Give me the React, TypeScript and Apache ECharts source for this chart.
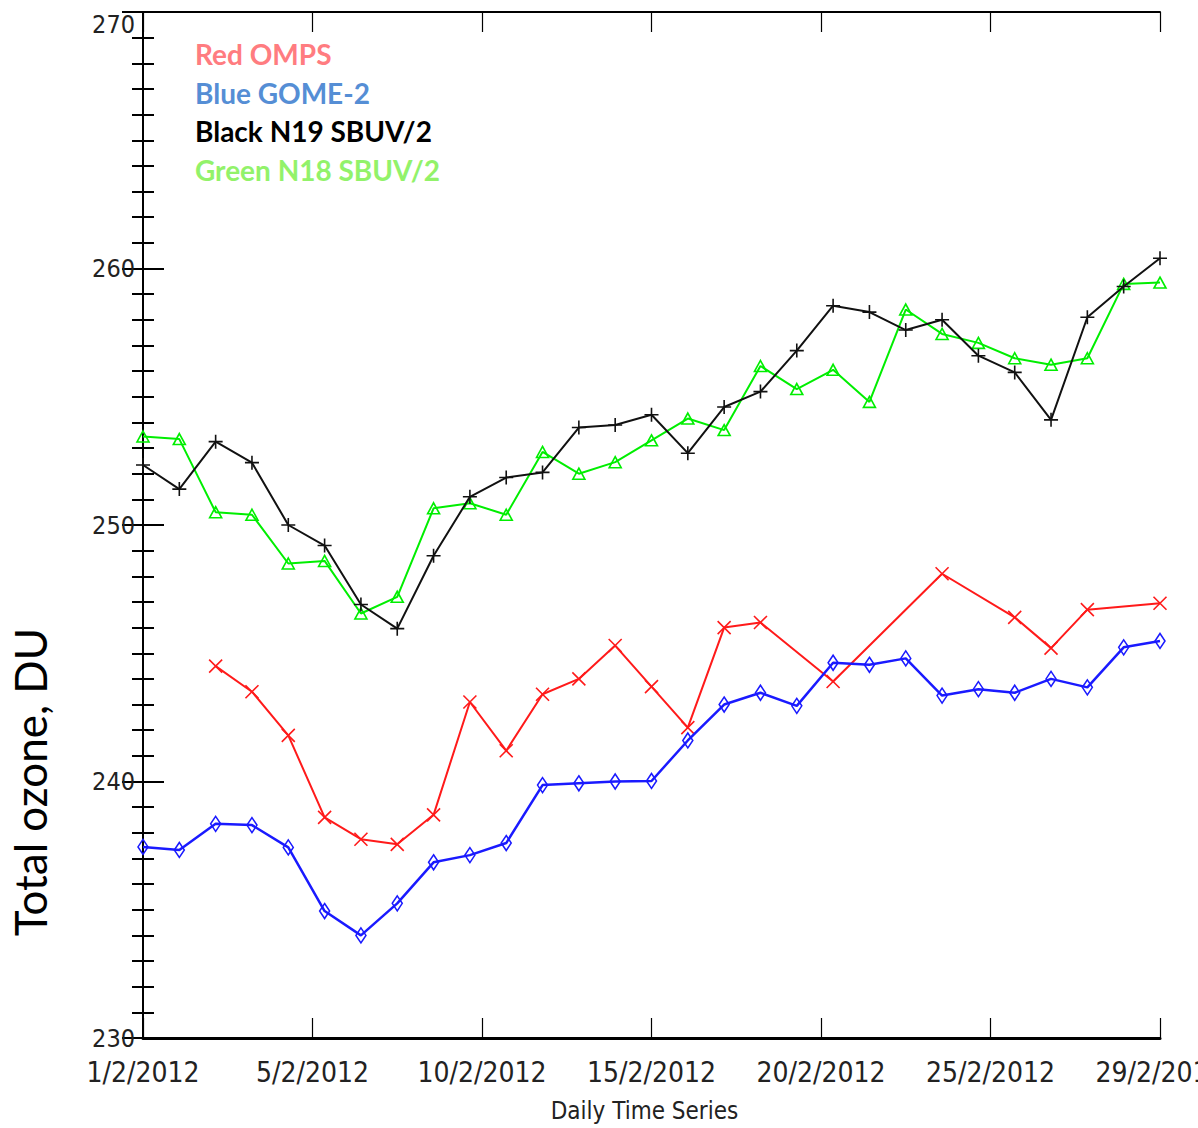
import React, { useEffect, useRef } from "react";
import * as echarts from "echarts";

const dayIndex: number[] = Array.from({ length: 29 }, (_, i) => i);

const tickLabels: string[] = ["1/2/2012", "5/2/2012", "10/2/2012", "15/2/2012", "20/2/2012", "25/2/2012", "29/2/2012"];

const omps: (number | null)[] = [
  null, null, 244.5, 243.5, 241.8, 238.6, 237.75, 237.55, 238.7, 243.1,
  241.2, 243.4, 244.0, 245.3, 243.7, 242.1, 246.0, 246.2, null, 243.9,
  null, null, 248.1, null, 246.4, 245.2, 246.7, null, 246.95,
];

const gome2: number[] = [
  237.45, 237.33, 238.35, 238.3, 237.43, 234.95, 234.0, 235.25, 236.85, 237.13,
  237.6, 239.86, 239.93, 240.0, 240.02, 241.6, 243.0, 243.46, 242.95, 244.63,
  244.55, 244.8, 243.35, 243.6, 243.46, 244.0, 243.67, 245.23, 245.48,
];

const n19: number[] = [
  252.34, 251.4, 253.25, 252.43, 250.0, 249.2, 246.9, 245.96, 248.8, 251.1,
  251.85, 252.05, 253.8, 253.9, 254.3, 252.8, 254.6, 255.2, 256.8, 258.55,
  258.3, 257.6, 258.0, 256.6, 255.95, 254.1, 258.1, 259.3, 260.4,
];

const n18: number[] = [
  253.45, 253.35, 250.5, 250.4, 248.5, 248.6, 246.55, 247.2, 250.65, 250.85,
  250.4, 252.85, 252.0, 252.45, 253.3, 254.15, 253.7, 256.2, 255.3, 256.05,
  254.8, 258.4, 257.45, 257.1, 256.5, 256.25, 256.5, 259.4, 259.45,
];

const legendTexts: string[] = ["Red OMPS", "Blue GOME-2", "Black N19 SBUV/2", "Green N18 SBUV/2"];
const legendColors: string[] = ["#ff7c80", "#558ed5", "#000000", "#92f26a"];

const X_MAX = 28;
const Y_MIN = 230;
const Y_MAX = 270;
const tickValues = tickLabels.map((_, i) => (i * X_MAX) / (tickLabels.length - 1));

const axisFont = "'DejaVu Sans Condensed', 'DejaVu Sans', sans-serif";

function pairs(vals: (number | null)[]) {
  return dayIndex.map((d, i) => [d, vals[i]]);
}

export default function App() {
  const ref = useRef<HTMLDivElement>(null);
  useEffect(() => {
    if (!ref.current) return;
    const chart = echarts.init(ref.current, null, { renderer: "svg" });
    const xLabelFmt = (v: number) => {
      const idx = Math.round((v * (tickLabels.length - 1)) / X_MAX);
      return tickLabels[idx] ?? "";
    };
    const yLabelFmt = (v: number) => (v === Y_MAX ? `{top|${v}}` : `${v}`);
    const lineAxis = { show: true, lineStyle: { color: "#000", width: 2 } };
    const option: any = {
      animation: false,
      backgroundColor: "#fff",
      grid: { left: 143, right: 38, top: 12, bottom: 90, containLabel: false, outerBoundsMode: "none" },
      xAxis: [
        {
          type: "value",
          min: 0,
          max: X_MAX,
          position: "bottom",
          axisLine: { show: true, lineStyle: { color: "#000", width: 3 } },
          axisTick: { show: true, inside: true, length: 20, customValues: tickValues, lineStyle: { color: "#000", width: 1.2 } },
          axisLabel: {
            show: true,
            customValues: tickValues,
            formatter: xLabelFmt,
            fontFamily: axisFont,
            fontSize: 28,
            color: "#222",
            margin: 20,
            showMinLabel: true,
            showMaxLabel: true,
            hideOverlap: false,
          },
          splitLine: { show: false },
          name: "Daily Time Series",
          nameLocation: "middle",
          nameGap: 61,
          nameTextStyle: { fontFamily: axisFont, fontSize: 24, color: "#222", padding: [0, 14, 0, 0] },
        },
        {
          type: "value",
          min: 0,
          max: X_MAX,
          position: "top",
          axisLine: lineAxis,
          axisTick: { show: true, inside: true, length: 20, customValues: tickValues, lineStyle: { color: "#000", width: 1.2 } },
          axisLabel: { show: false },
          splitLine: { show: false },
        },
      ],
      yAxis: [
        {
          type: "value",
          min: Y_MIN,
          max: Y_MAX,
          interval: 10,
          position: "left",
          axisLine: lineAxis,
          axisTick: { show: true, inside: true, length: 21, lineStyle: { color: "#000", width: 2 } },
          minorTick: { show: true, splitNumber: 10, length: 11, lineStyle: { color: "#000", width: 2 } },
          axisLabel: {
            fontFamily: axisFont,
            fontSize: 25,
            color: "#222",
            margin: 8,
            formatter: yLabelFmt,
            showMaxLabel: true,
            rich: { top: { fontFamily: axisFont, fontSize: 25, color: "#222", padding: [24, 0, 0, 0] } },
          },
          splitLine: { show: false },
          minorSplitLine: { show: false },
        },
        {
          type: "value",
          min: Y_MIN,
          max: Y_MAX,
          interval: 10,
          position: "right",
          axisLine: lineAxis,
          axisTick: { show: true, inside: true, length: 21, lineStyle: { color: "#000", width: 2 } },
          minorTick: { show: true, splitNumber: 10, length: 11, lineStyle: { color: "#000", width: 2 } },
          axisLabel: { show: false },
          splitLine: { show: false },
          minorSplitLine: { show: false },
        },
      ],
      graphic: [
        ...legendTexts.map((t, i) => ({
          type: "text",
          left: 195,
          top: 40 + i * 38.5,
          style: {
            text: t,
            fill: legendColors[i],
            font: "bold 28px Lato, 'Open Sans', sans-serif",
          },
        })),
        {
          type: "text",
          x: 30,
          y: 782,
          rotation: Math.PI / 2,
          style: {
            text: "Total ozone, DU",
            fill: "#000",
            font: "44px Lato, 'Open Sans', sans-serif",
            textAlign: "center",
            textVerticalAlign: "middle",
          },
        },
      ],
      series: [
        {
          name: "N18 SBUV/2",
          type: "line",
          data: pairs(n18),
          symbol: "triangle",
          symbolSize: [12, 11],
          lineStyle: { color: "#00ee00", width: 2 },
          itemStyle: { color: "rgba(255,255,255,0)", borderColor: "#00ee00", borderWidth: 1.6 },
          z: 2,
        },
        {
          name: "N19 SBUV/2",
          type: "line",
          data: pairs(n19),
          symbol: "path://M5,0L5,10M0,5L10,5",
          symbolSize: 14,
          lineStyle: { color: "#111", width: 2 },
          itemStyle: { color: "rgba(0,0,0,0)", borderColor: "#111", borderWidth: 1.6 },
          z: 3,
        },
        {
          name: "OMPS",
          type: "line",
          data: pairs(omps),
          connectNulls: true,
          symbol: "path://M0,0L10,10M10,0L0,10",
          symbolSize: 13,
          lineStyle: { color: "#ff1a1a", width: 2 },
          itemStyle: { color: "rgba(0,0,0,0)", borderColor: "#ff1a1a", borderWidth: 1.6 },
          z: 4,
        },
        {
          name: "GOME-2",
          type: "line",
          data: pairs(gome2),
          symbol: "diamond",
          symbolSize: [10, 15],
          lineStyle: { color: "#1a1aff", width: 2.5 },
          itemStyle: { color: "rgba(255,255,255,0)", borderColor: "#1a1aff", borderWidth: 1.6 },
          z: 5,
        },
      ],
    };
    chart.setOption(option);
    return () => chart.dispose();
  }, []);
  return (
    <div
      ref={ref}
      style={{ position: "absolute", left: 0, top: 0, width: 1198, height: 1128, background: "#fff" }}
    />
  );
}
